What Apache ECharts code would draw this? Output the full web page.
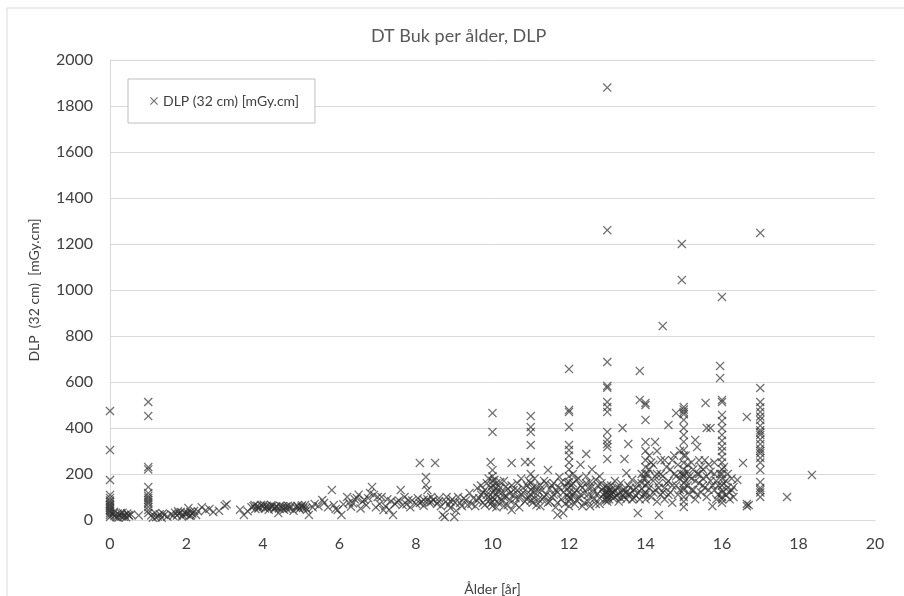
<!DOCTYPE html>
<html>
<head>
<meta charset="utf-8">
<script src="https://cdn.jsdelivr.net/npm/echarts@6/dist/echarts.min.js"></script>
<style>
  html, body { margin: 0; padding: 0; background: #ffffff; }
  #chart { width: 904px; height: 596px; }
</style>
</head>
<body>
<div id="chart"></div>
<script>
// DLP per examination, [age in years, DLP (32 cm) in mGy.cm], grouped by age band
const infants = [
  [0,474],[0,304],[0,174],[0,109],[0,96],[0,85],[0,78],[0,70],[0,65],[0,58],[0,52],[0,45],[0,38],[0,30],[0,22],[0,13],
  [0.08,25],[0.12,18],[0.17,12],[0.2,28],[0.25,20],[0.3,15],[0.33,32],[0.38,22],[0.42,12],[0.45,28],[0.5,18],[0.55,24],
  [0.1,35],[0.22,10],[0.28,30],[0.36,14],[0.48,22],
  [0.75,20],
  [1,513],[1,452],[1,230],[1,220],[1,143],[1,117],[1,105],[1,96],[1,87],[1,78],[1,70],[1,57],[1,43],[1,30],
  [1.08,20],[1.12,10],[1.18,30],[1.25,15],[1.3,25],[1.35,10],[1.42,22],[1.5,15],[1.2,12],[1.38,28]
];
const young = [
  [1.6,25],[1.7,32],[1.75,20],[1.8,28],[1.85,35],[1.9,22],[1.95,30],[2.0,25],[2.05,52],[2.08,18],[2.1,35],[2.15,28],
  [2.2,40],[2.25,22],[2.3,38],[2.4,55],[2.5,42],[2.6,48],[2.7,35],[2.85,40],[3.0,62],[3.05,68],[3.4,45],[3.5,22],
  [3.6,38],[3.7,55],[3.75,60],[3.8,48],[3.85,62],[3.9,55],[3.95,65],[4.0,58],[4.05,50],[4.1,62],[4.15,45],[4.2,55],
  [4.25,60],[4.3,48],[4.35,58],[4.4,30],[4.45,62],[4.5,52],[4.55,45],[4.6,58],[4.65,62],[4.7,50],[4.8,40],[4.85,55],
  [4.9,62],[4.95,48],[5.0,58],[5.05,52],[5.1,65],[5.15,45],[5.2,22],[5.3,55],[5.35,70],[5.45,60],[5.55,87],[5.6,75],
  [5.7,55],[5.8,130],[5.85,65],[5.9,48],[5.95,43],[6.05,22],
  [1.65,18],[1.78,38],[1.88,15],[2.02,32],[2.12,20],[3.78,65],[3.88,50],[4.02,66],[4.12,55],[4.22,64],[4.32,56],
  [4.42,50],[4.52,60],[4.62,48],[4.72,60],[4.92,55],[5.02,64],[5.12,52]
];
const middle = [
  [6.1,68],[6.2,100],[6.25,75],[6.3,58],[6.4,90],[6.45,96],[6.5,110],[6.55,50],[6.6,80],[6.7,65],[6.75,95],[6.8,117],
  [6.85,143],[6.9,109],[6.95,55],[7.0,100],[7.1,100],[7.15,43],[7.2,60],[7.25,90],[7.3,45],[7.4,22],[7.45,70],[7.5,78],
  [7.55,85],[7.6,130],[7.65,65],[7.7,100],[7.8,87],[7.85,55],[7.9,85],[8.0,70],[8.05,95],[8.1,248],[8.1,74],[8.15,80],
  [8.2,62],[8.26,187],[8.26,152],[8.3,130],[8.3,90],[8.35,75],[8.4,100],[8.45,87],[8.5,248],[8.55,70],[8.6,95],
  [8.65,60],[8.7,22],[8.75,13],[8.78,80],[8.8,100],[8.85,65],[8.9,52],[8.95,90],[9.0,13],[9.02,75],[9.05,40],
  [9.1,100],[9.15,74],[9.2,60],[9.3,85],[9.4,117],[9.45,70],[9.5,95],
  [6.35,72],[6.65,88],[7.05,70],[7.35,82],[7.75,68],[8.2,88],[8.4,78],[8.6,82],[8.9,80],[9.25,95],[9.35,65]
];
const age10to12 = [
  [9.6,139],[9.65,95],[9.7,110],[9.75,75],[9.8,130],[9.85,160],[9.9,100],[9.92,85],[9.95,252],[9.95,140],
  [10.0,465],[10.0,383],[10.0,217],[10.0,190],[10.0,170],[10.0,150],[10.0,120],[10.0,100],[10.05,130],[10.05,90],
  [10.1,160],[10.1,110],[10.15,75],[10.2,140],[10.2,95],[10.25,120],[10.3,60],[10.3,170],[10.35,105],[10.4,135],
  [10.45,85],[10.5,248],[10.5,150],[10.5,43],[10.55,110],[10.6,70],[10.65,130],[10.7,95],[10.75,180],[10.8,120],
  [10.85,252],[10.85,80],[10.9,150],[10.95,105],[11.0,452],[11.0,404],[11.0,383],[11.0,326],[11.0,252],[11.0,200],
  [11.0,160],[11.0,130],[11.0,110],[11.0,85],[11.05,140],[11.1,95],[11.1,180],[11.15,65],[11.2,125],[11.25,150],
  [11.3,90],[11.35,170],[11.4,110],[11.45,217],[11.45,75],[11.5,135],[11.55,100],[11.6,160],[11.65,55],[11.7,120],
  [11.7,22],[11.75,187],[11.8,90],[11.85,30],[11.9,145],[11.95,105],
  [9.55,60],[9.6,85],[9.7,150],[9.75,120],[9.8,65],[9.85,110],[9.9,180],[9.95,70],[10.0,80],[10.0,60],[10.05,175],
  [10.1,140],[10.1,55],[10.15,125],[10.2,165],[10.25,80],[10.3,100],[10.35,145],[10.4,65],[10.45,115],[10.55,130],
  [10.6,95],[10.65,160],[10.7,55],[10.75,110],[10.8,140],[10.9,90],[10.95,170],[11.05,75],[11.1,120],[11.15,145],
  [11.2,90],[11.25,60],[11.3,130],[11.35,100],[11.4,160],[11.5,80],[11.55,150],[11.6,110],[11.65,130],[11.7,75],
  [11.75,140],[11.8,165],[11.85,120],[11.9,70],[11.95,160]
];
const age12to14 = [
  [12.0,656],[12.0,478],[12.0,470],[12.0,404],[12.0,326],[12.0,304],[12.0,280],[12.0,250],[12.0,220],[12.0,190],
  [12.0,165],[12.0,140],[12.0,120],[12.0,100],[12.0,80],[12.05,150],[12.1,110],[12.1,200],[12.15,70],[12.2,130],
  [12.2,175],[12.25,95],[12.3,240],[12.3,150],[12.35,60],[12.4,115],[12.45,287],[12.45,190],[12.5,140],[12.5,80],
  [12.55,165],[12.6,105],[12.6,220],[12.65,125],[12.7,70],[12.75,150],[12.8,95],[12.8,190],[12.85,130],[12.9,110],
  [12.95,85],[13.0,1880],[13.0,1260],[13.0,687],[13.0,583],[13.0,575],[13.0,513],[13.0,491],[13.0,470],[13.0,383],
  [13.0,348],[13.0,330],[13.0,317],[13.0,265],[13.0,140],[13.0,120],[13.0,110],[13.0,100],[13.05,130],[13.05,90],
  [13.1,150],[13.1,115],[13.15,95],[13.2,170],[13.2,125],[13.25,105],[13.3,140],[13.3,80],[13.35,160],[13.4,400],
  [13.4,110],[13.45,265],[13.45,130],[13.5,204],[13.5,90],[13.55,330],[13.55,150],[13.6,115],[13.65,175],[13.7,95],
  [13.75,140],[13.8,30],[13.8,120],[13.85,648],[13.85,522],[13.9,160],[13.9,200],[13.95,110],
  [12.0,60],[12.05,95],[12.1,160],[12.15,120],[12.2,85],[12.25,180],[12.3,110],[12.35,140],[12.4,75],[12.45,160],
  [12.5,110],[12.55,60],[12.6,145],[12.65,90],[12.7,175],[12.75,115],[12.8,70],[12.85,160],[12.9,140],[12.95,120],
  [13.0,150],[13.0,90],[13.0,80],[13.05,110],[13.1,130],[13.15,120],[13.2,100],[13.25,140],[13.3,115],[13.35,95],
  [13.4,130],[13.45,100],[13.5,120],[13.55,110],[13.6,140],[13.65,90],[13.7,130],[13.75,105],[13.8,160],[13.85,90],
  [13.9,135],[13.95,180]
];
const age14to16 = [
  [14.0,509],[14.0,500],[14.0,435],[14.0,339],[14.0,300],[14.0,260],[14.0,230],[14.0,180],[14.0,150],[14.0,120],
  [14.0,90],[14.05,200],[14.1,140],[14.1,280],[14.15,100],[14.2,240],[14.2,170],[14.25,339],[14.25,130],[14.3,200],
  [14.3,80],[14.35,22],[14.35,160],[14.4,260],[14.4,110],[14.45,843],[14.45,190],[14.5,140],[14.5,90],[14.55,230],
  [14.6,413],[14.6,170],[14.65,120],[14.7,260],[14.7,75],[14.75,200],[14.8,465],[14.8,150],[14.85,110],[14.9,300],
  [14.9,180],[14.95,1200],[14.95,1043],[15.0,491],[15.0,480],[15.0,470],[15.0,460],[15.0,435],[15.0,400],[15.0,370],
  [15.0,340],[15.0,304],[15.0,248],[15.0,220],[15.0,190],[15.0,160],[15.0,130],[15.0,100],[15.0,80],[15.0,57],
  [15.05,280],[15.1,150],[15.1,210],[15.15,110],[15.2,250],[15.2,180],[15.25,130],[15.3,348],[15.3,90],[15.35,317],
  [15.35,200],[15.4,160],[15.4,260],[15.45,120],[15.5,220],[15.5,180],[15.55,140],[15.57,509],[15.6,400],[15.6,100],
  [15.65,240],[15.7,400],[15.7,170],[15.75,60],[15.8,200],[15.8,130],[15.85,90],[15.9,150],[15.95,670],[15.95,617],
  [14.0,200],[14.0,110],[14.05,160],[14.1,220],[14.15,250],[14.2,120],[14.25,190],[14.3,300],[14.35,140],[14.4,200],
  [14.45,120],[14.5,260],[14.55,160],[14.6,110],[14.65,220],[14.7,150],[14.75,280],[14.8,190],[14.85,240],[14.9,130],
  [14.95,200],[15.0,280],[15.0,200],[15.0,140],[15.05,170],[15.1,240],[15.15,190],[15.2,130],[15.25,220],[15.3,170],
  [15.35,110],[15.4,200],[15.45,230],[15.5,150],[15.55,260],[15.6,190],[15.65,130],[15.7,210],[15.75,150],[15.8,250],
  [15.85,170],[15.9,110],[15.95,200]
];
const age16plus = [
  [16.0,970],[16.0,522],[16.0,513],[16.0,457],[16.0,430],[16.0,400],[16.0,370],[16.0,345],[16.0,320],[16.0,300],
  [16.0,274],[16.0,220],[16.0,180],[16.0,150],[16.0,120],[16.0,100],[16.0,75],[16.05,160],[16.1,110],[16.15,200],
  [16.2,90],[16.25,130],[16.3,143],[16.4,174],[16.55,248],[16.65,448],[16.65,70],[16.65,60],[16.7,65],
  [16.0,250],[16.0,200],[16.0,130],[16.0,90],[16.05,230],[16.1,170],[16.15,140],[16.2,120],[16.25,180],[16.3,100],
  [17.0,1248],[17.0,574],[17.0,513],[17.0,490],[17.0,470],[17.0,435],[17.0,410],[17.0,390],[17.0,370],[17.0,350],
  [17.0,330],[17.0,310],[17.0,290],[17.0,270],[17.0,217],[17.0,165],[17.0,140],[17.0,120],[17.0,100],
  [17.0,450],[17.0,380],[17.0,300],[17.0,250],[17.0,130],
  [17.7,100],[18.35,196]
];

const seriesName = 'DLP (32 cm) [mGy.cm]';
const chartTitle = 'DT Buk per ålder, DLP';
const xAxisName = 'Ålder [år]';
const yAxisName = 'DLP  (32 cm)  [mGy.cm]';

const allPoints = [].concat(infants, young, middle, age10to12, age12to14, age14to16, age16plus);

// thin diagonal cross marker
const crossPath = 'path://M0,1L1,0L5,4L9,0L10,1L6,5L10,9L9,10L5,6L1,10L0,9L4,5Z';
const font = 'Lato, "Open Sans", sans-serif';
const titleGray = '#595959';
const labelGray = '#404040';
const lineGray = '#d9d9d9';

const chart = echarts.init(document.getElementById('chart'), null, { renderer: 'canvas' });
chart.setOption({
  backgroundColor: '#ffffff',
  animation: false,
  graphic: [{
    type: 'rect',
    shape: { x: 7, y: 8, width: 1000, height: 1000 },
    style: { fill: 'none', stroke: lineGray, lineWidth: 1 },
    silent: true
  }],
  title: {
    text: chartTitle,
    left: 366,
    top: 22,
    textStyle: { fontFamily: font, fontSize: 18, fontWeight: 'normal', color: titleGray }
  },
  legend: {
    left: 128,
    top: 79,
    orient: 'vertical',
    padding: [15, 16, 15, 22],
    borderColor: '#bfbfbf',
    borderWidth: 1,
    backgroundColor: '#ffffff',
    itemWidth: 8,
    itemHeight: 8,
    itemGap: 4,
    textStyle: { fontFamily: font, fontSize: 14, color: labelGray },
    data: [{ name: seriesName, icon: crossPath }]
  },
  grid: { left: 110, right: 29, top: 60, bottom: 76, containLabel: false, outerBoundsMode: 'none' },
  xAxis: {
    type: 'value',
    min: 0, max: 20, interval: 2,
    name: xAxisName,
    nameLocation: 'middle',
    nameGap: 62,
    nameTextStyle: { fontFamily: font, fontSize: 14, color: labelGray },
    axisLine: { show: true, lineStyle: { color: lineGray, width: 1 } },
    axisTick: { show: false },
    axisLabel: { fontFamily: font, fontSize: 16, color: labelGray, margin: 16 },
    splitLine: { show: false }
  },
  yAxis: {
    type: 'value',
    min: 0, max: 2000, interval: 200,
    name: yAxisName,
    nameLocation: 'middle',
    nameGap: 69,
    nameRotate: 90,
    nameTextStyle: { fontFamily: font, fontSize: 14, color: labelGray },
    axisLine: { show: true, lineStyle: { color: lineGray, width: 1 } },
    axisTick: { show: false },
    axisLabel: { fontFamily: font, fontSize: 16, color: labelGray, margin: 17, formatter: v => String(v) },
    splitLine: { show: true, lineStyle: { color: lineGray, width: 1 } }
  },
  series: [{
    name: seriesName,
    type: 'scatter',
    symbol: crossPath,
    symbolSize: 9,
    itemStyle: { color: 'rgba(45,45,45,0.85)' },
    data: allPoints
  }]
});
</script>
</body>
</html>
